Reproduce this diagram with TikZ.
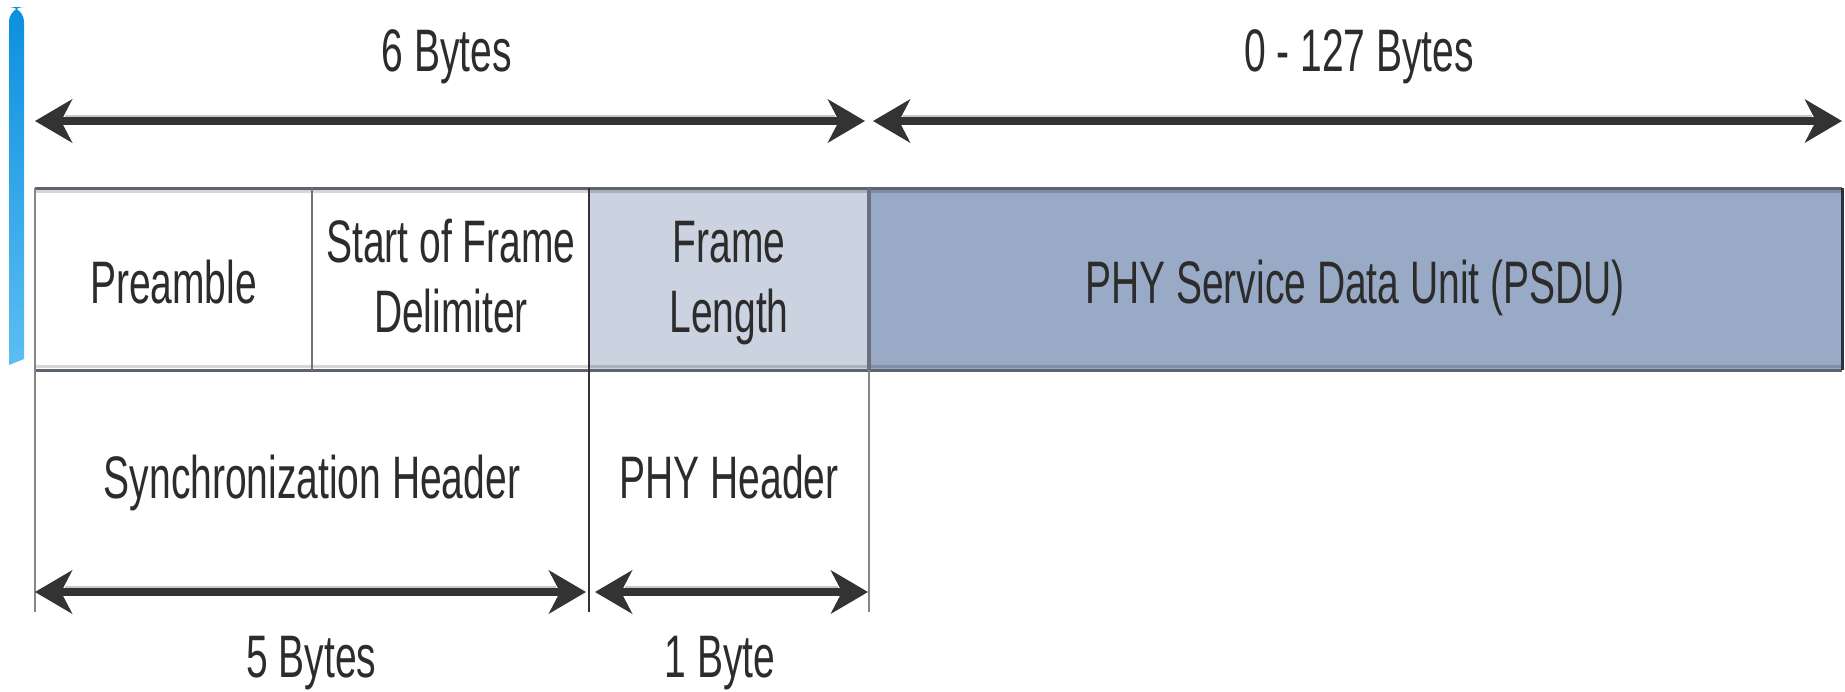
\documentclass[tikz,border=0pt]{standalone}
\usepackage{fontspec}
\setmainfont{Liberation Sans}[FakeStretch=0.65]
\usetikzlibrary{arrows.meta,calc}

\definecolor{ink}{HTML}{2C2C2C}
\definecolor{shaft}{HTML}{333333}
\definecolor{lenfill}{HTML}{CCD3E0}
\definecolor{psdufill}{HTML}{98AAC5}
\definecolor{rail}{HTML}{5E646D}
\definecolor{barTop}{HTML}{0B8FDE}
\definecolor{barBot}{HTML}{5CBEF3}
\definecolor{sepdark}{HTML}{6B7080}
\definecolor{edgedark}{HTML}{2A3040}

\begin{document}
\begin{tikzpicture}[x=1pt,y=-1pt,
  >={Stealth[length=37pt,width=43pt,inset=11pt]},
  lbl/.style={font=\fontsize{60}{70}\selectfont, text=ink, inner sep=0pt, outer sep=0pt, anchor=base, align=center},
  cell/.style={inner sep=0pt, outer sep=0pt, draw=none, minimum height=182pt},
  lowcell/.style={inner sep=0pt, outer sep=0pt, draw=none, minimum height=242pt},
  dim/.style={draw=shaft, line width=8pt, <->},
  halo/.style={draw=black!22, line width=3pt},
  railline/.style={draw=rail, line width=3pt},
  railshade/.style={draw=black, opacity=0.16, line width=3pt},
  thinrule/.style={draw=black!48, line width=2.5pt},
]
\useasboundingbox (0,0) rectangle (1845,691);

% side accent bar
\shade[top color=barTop, bottom color=barBot]
  (9,365) [rounded corners=15pt] -- (9,7) -- (24,7) [sharp corners] -- (24,359) -- cycle;

% frame fields
\node[cell, minimum width=277pt] (pre) at (173.5,279) {};
\node[cell, minimum width=277pt] (sfd) at (450.5,279) {};
\node[cell, minimum width=280pt, fill=lenfill] (flen) at (729,279) {};
\node[cell, minimum width=973pt, fill=psdufill] (psdu) at (1355.5,279) {};

% header groups below the fields
\node[lowcell, minimum width=554pt] (sync) at (312,491) {};
\node[lowcell, minimum width=280pt] (phyh) at (729,491) {};

% field labels (two-line labels sit on the baseline of their last line)
\node[lbl] (tpre)  at (173.5,303) {Preamble};
\node[lbl] (tsfd)  at (451,332) {Start of Frame\\Delimiter};
\node[lbl] (tflen) at (729,332) {Frame\\Length};
\node[lbl] (tpsdu) at (1355,303) {PHY Service Data Unit (PSDU)};
\node[lbl] (tsync) at (312,498) {Synchronization Header};
\node[lbl] (tphyh) at (729,498) {PHY Header};

% size labels
\node[lbl] (tsix)  at (447,71)  {6 Bytes};
\node[lbl] (tmax)  at (1359,71) {0 - 127 Bytes};
\node[lbl] (tfive) at (311.5,677) {5 Bytes};
\node[lbl] (tone)  at (720,677) {1 Byte};

% rails along the top and bottom of the field row
\draw[railshade] ($(pre.north west)+(0,3.5)$) -- ($(psdu.north east)+(0,3.5)$);
\draw[railshade] ($(pre.south west)+(0,-3.5)$) -- ($(psdu.south east)+(0,-3.5)$);
\draw[railline] (pre.north west) -- (psdu.north east);
\draw[railline] (pre.south west) -- (psdu.south east);

% vertical dividers
\draw[thinrule] (pre.north west) -- (sync.south west);
\draw[draw=black!55, line width=2pt] (pre.north east) -- (pre.south east);
\draw[draw=shaft, line width=2.2pt] (sfd.north east) -- (sync.south east);
\draw[draw=sepdark, line width=3.5pt] (flen.north east) -- (flen.south east);
\draw[thinrule] (flen.south east) -- (phyh.south east);
\draw[draw=edgedark, line width=3pt] (psdu.north east) -- (psdu.south east);

% dimension arrows
\coordinate (sixL) at (35,121);
\coordinate (sixR) at (865,121);
\coordinate (maxL) at (873,121);
\coordinate (maxR) at (1842,121);
\coordinate (fiveL) at (35,592);
\coordinate (fiveR) at (586,592);
\coordinate (oneL) at (595,592);
\coordinate (oneR) at (868,592);

\foreach \a/\b in {sixL/sixR, maxL/maxR, fiveL/fiveR, oneL/oneR}{
  \draw[halo] ($(\a)+(30,-5)$) -- ($(\b)+(-30,-5)$);
  \draw[dim] (\a) -- (\b);
}
\end{tikzpicture}
\end{document}
